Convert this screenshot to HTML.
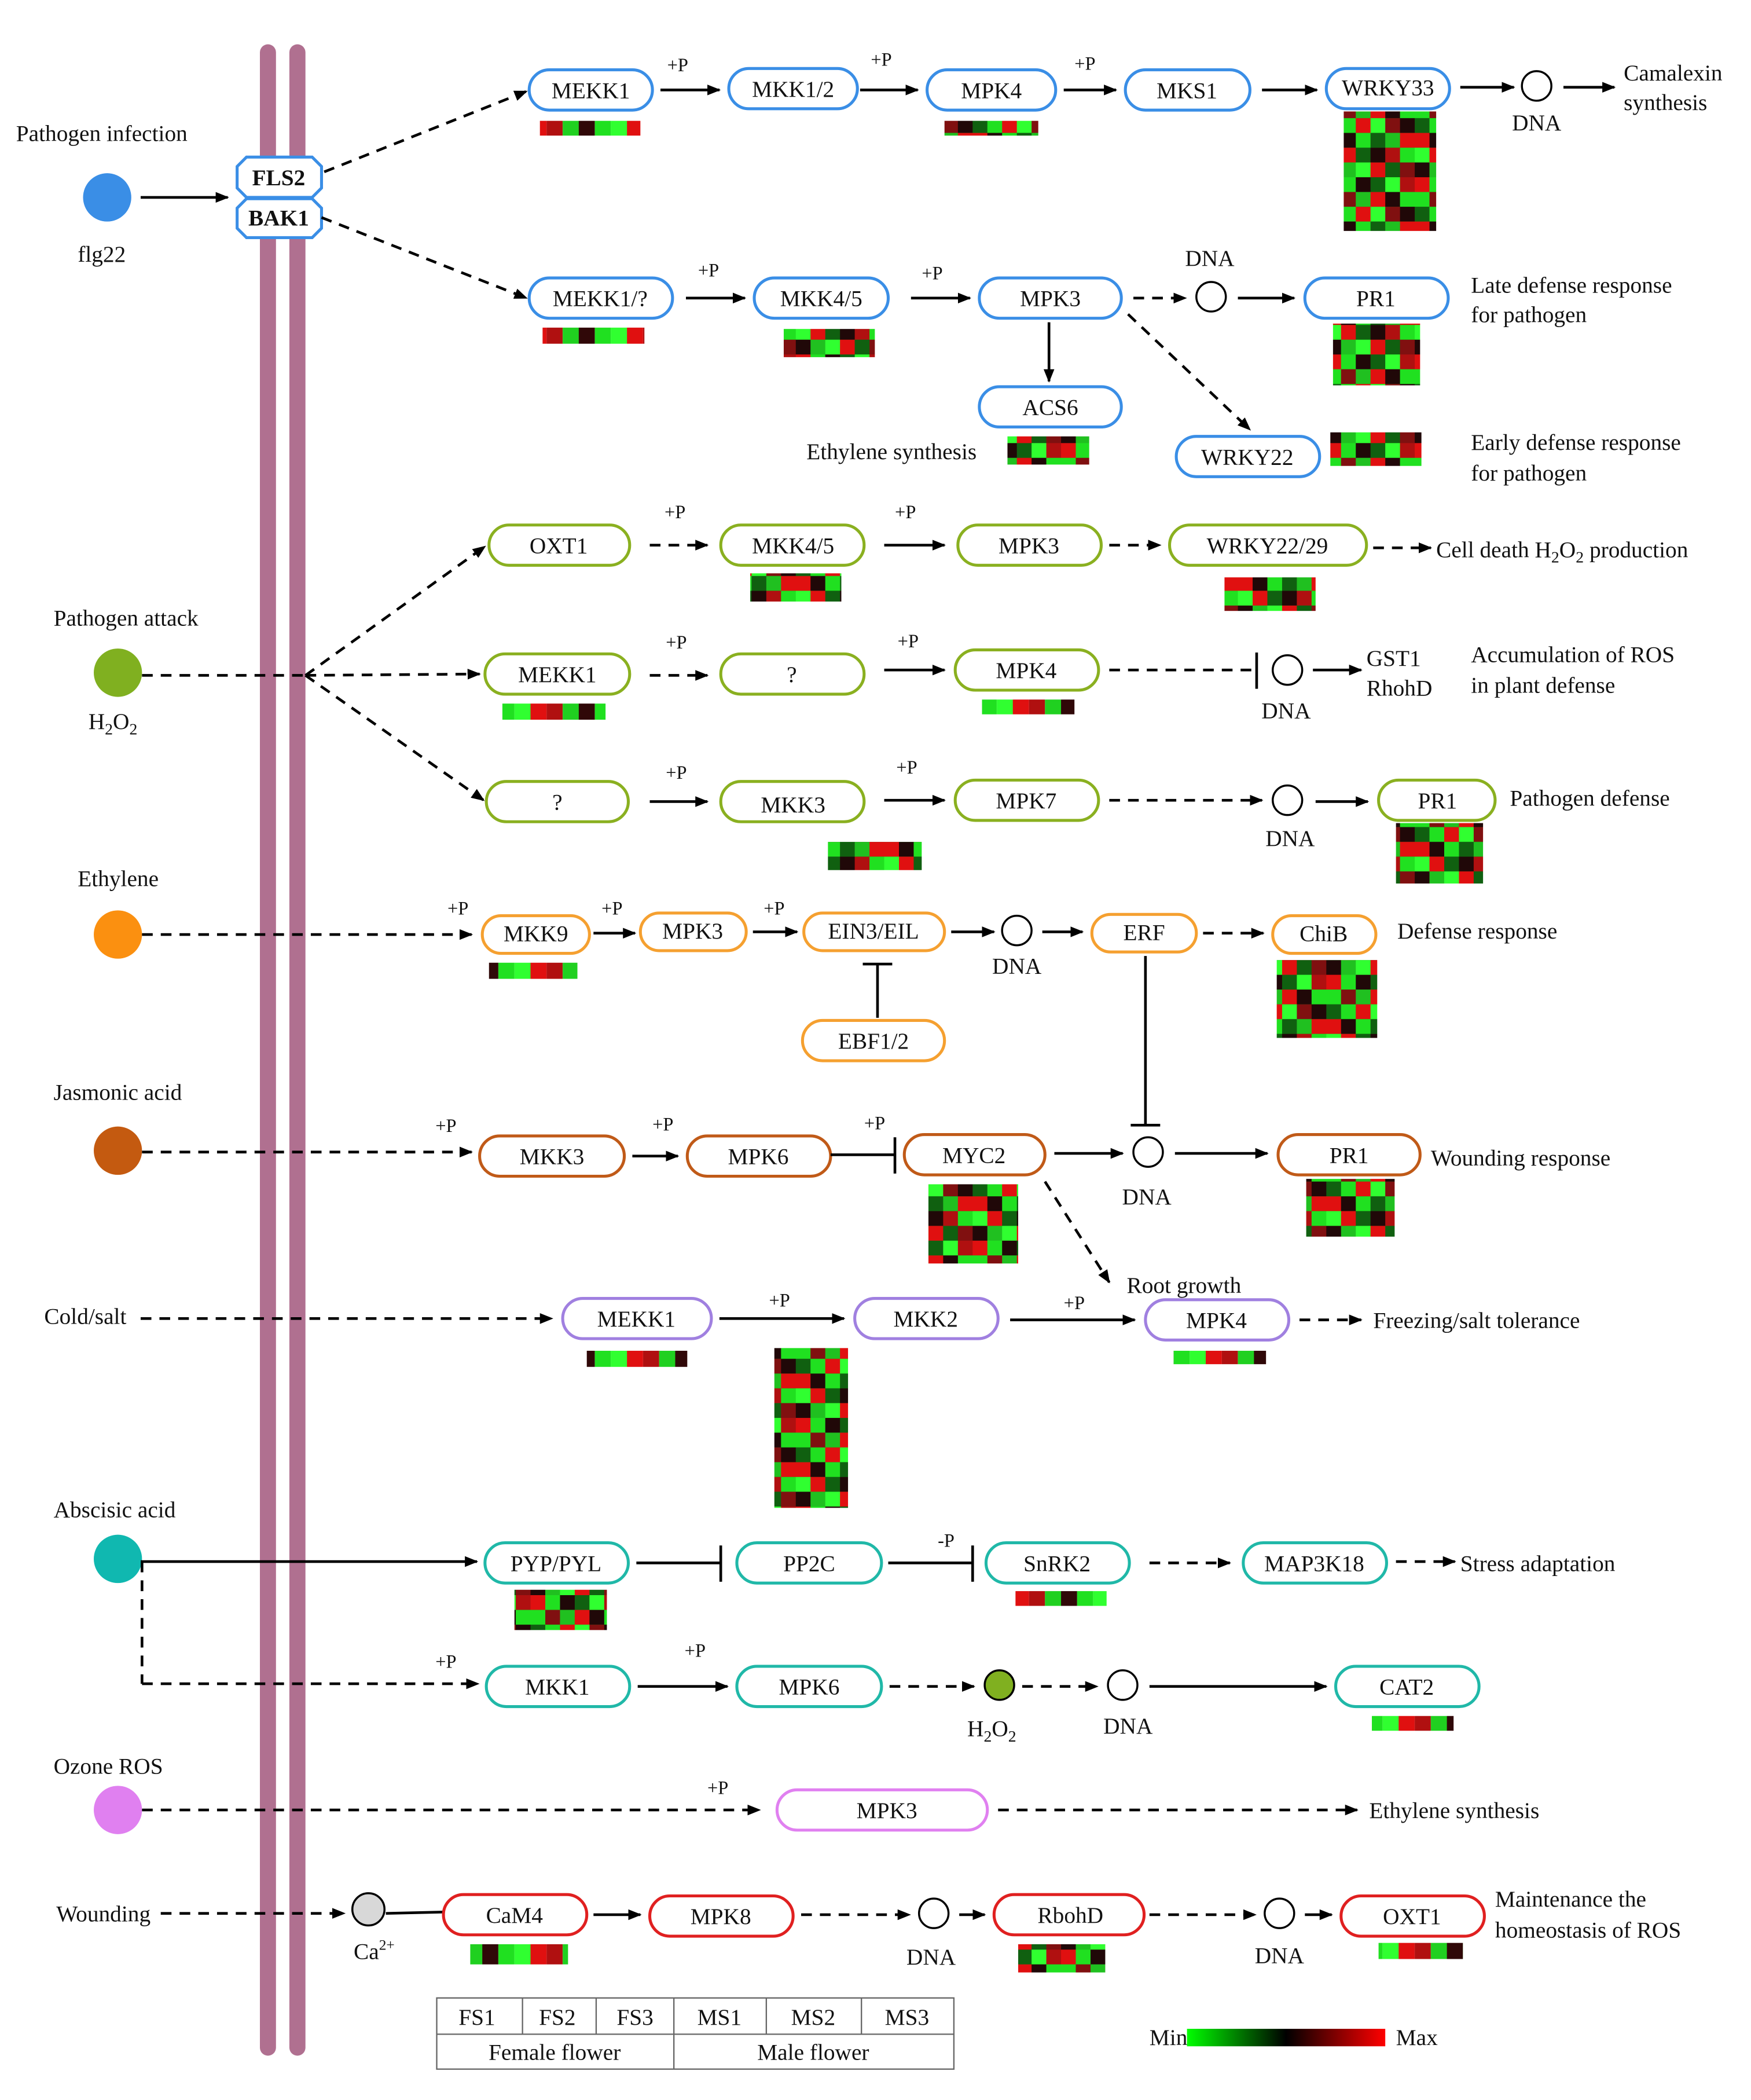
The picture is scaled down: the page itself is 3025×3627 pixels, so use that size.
<!DOCTYPE html>
<html><head><meta charset="utf-8"><style>
html,body{margin:0;padding:0;background:#fff}
svg{display:block}
text{font-family:"Liberation Serif",serif;font-size:17px;fill:#111}
.n{fill:#fff;stroke-width:2.2}
.c{text-anchor:middle}
.l{stroke:#000;stroke-width:2;fill:none}
.d{stroke:#000;stroke-width:2;fill:none;stroke-dasharray:8,6}
.p{font-size:14px}
.b{stroke:#3a8ee6}.g{stroke:#8ab020}.o{stroke:#f5a030}.br{stroke:#c05a18}.pu{stroke:#a080e0}.t{stroke:#20b8a8}.pk{stroke:#e080f0}.r{stroke:#e02020}
.hm{fill:url(#hm);stroke:none}
.hm2{fill:url(#hm2);stroke:none}
</style></head><body>
<svg width="3025" height="3627" viewBox="0 0 1307 1564" preserveAspectRatio="none" xmlns="http://www.w3.org/2000/svg">
<defs>
<marker id="a" markerWidth="10" markerHeight="10" refX="9" refY="5" orient="auto" markerUnits="userSpaceOnUse"><path d="M0,1 L10,5 L0,9 Z" fill="#000"/></marker>
<pattern id="hm" width="66" height="66" patternUnits="userSpaceOnUse">
<rect width="66" height="66" fill="#108010"/>
<rect x="0" y="0" width="11" height="11" fill="#e01010"/><rect x="11" y="0" width="11" height="11" fill="#20e020"/><rect x="22" y="0" width="11" height="11" fill="#200808"/><rect x="33" y="0" width="11" height="11" fill="#106010"/><rect x="44" y="0" width="11" height="11" fill="#30ff30"/><rect x="55" y="0" width="11" height="11" fill="#b01010"/>
<rect x="0" y="11" width="11" height="11" fill="#20e020"/><rect x="11" y="11" width="11" height="11" fill="#801010"/><rect x="22" y="11" width="11" height="11" fill="#20c020"/><rect x="33" y="11" width="11" height="11" fill="#e01010"/><rect x="44" y="11" width="11" height="11" fill="#200808"/><rect x="55" y="11" width="11" height="11" fill="#20e020"/>
<rect x="0" y="22" width="11" height="11" fill="#106010"/><rect x="11" y="22" width="11" height="11" fill="#20e020"/><rect x="22" y="22" width="11" height="11" fill="#e01010"/><rect x="33" y="22" width="11" height="11" fill="#30ff30"/><rect x="44" y="22" width="11" height="11" fill="#801010"/><rect x="55" y="22" width="11" height="11" fill="#200808"/>
<rect x="0" y="33" width="11" height="11" fill="#e01010"/><rect x="11" y="33" width="11" height="11" fill="#200808"/><rect x="22" y="33" width="11" height="11" fill="#20e020"/><rect x="33" y="33" width="11" height="11" fill="#106010"/><rect x="44" y="33" width="11" height="11" fill="#20c020"/><rect x="55" y="33" width="11" height="11" fill="#e01010"/>
<rect x="0" y="44" width="11" height="11" fill="#30ff30"/><rect x="11" y="44" width="11" height="11" fill="#e01010"/><rect x="22" y="44" width="11" height="11" fill="#106010"/><rect x="33" y="44" width="11" height="11" fill="#200808"/><rect x="44" y="44" width="11" height="11" fill="#b01010"/><rect x="55" y="44" width="11" height="11" fill="#20e020"/>
<rect x="0" y="55" width="11" height="11" fill="#200808"/><rect x="11" y="55" width="11" height="11" fill="#20c020"/><rect x="22" y="55" width="11" height="11" fill="#30ff30"/><rect x="33" y="55" width="11" height="11" fill="#e01010"/><rect x="44" y="55" width="11" height="11" fill="#106010"/><rect x="55" y="55" width="11" height="11" fill="#801010"/>
</pattern>
<pattern id="hm2" width="72" height="12" patternUnits="userSpaceOnUse">
<rect x="0" width="12" height="12" fill="#300808"/><rect x="12" width="12" height="12" fill="#20e020"/><rect x="24" width="12" height="12" fill="#30ff30"/><rect x="36" width="12" height="12" fill="#e01010"/><rect x="48" width="12" height="12" fill="#b01010"/><rect x="60" width="12" height="12" fill="#20d020"/>
</pattern>
<linearGradient id="cb"><stop offset="0" stop-color="#00ff00"/><stop offset="0.5" stop-color="#000"/><stop offset="1" stop-color="#ff0000"/></linearGradient>
</defs>

<rect x="194" y="33" width="12" height="1498" rx="6" fill="#b07090"/>
<rect x="216" y="33" width="12" height="1498" rx="6" fill="#b07090"/>

<text x="12" y="105">Pathogen infection</text>
<circle cx="80" cy="147" r="18" fill="#3a8ee6"/>
<text x="58" y="195">flg22</text>
<line class="l" x1="105" y1="147" x2="170" y2="147" marker-end="url(#a)"/>
<path d="M184,117 L233,117 L240,124 L240,140 L233,147 L184,147 L177,140 L177,124 Z" fill="#fff" stroke="#3a8ee6" stroke-width="2.2"/>
<path d="M184,148 L233,148 L240,155 L240,170 L233,177 L184,177 L177,170 L177,155 Z" fill="#fff" stroke="#3a8ee6" stroke-width="2.2"/>
<text x="208" y="138" class="c" font-weight="bold">FLS2</text>
<text x="208" y="168" class="c" font-weight="bold">BAK1</text>
<line class="d" x1="242" y1="128" x2="393" y2="68" marker-end="url(#a)"/>
<line class="d" x1="240" y1="162" x2="393" y2="222" marker-end="url(#a)"/>

<rect class="n b" x="395" y="52" width="92" height="30" rx="15"/><text x="441" y="73" class="c">MEKK1</text>
<rect class="n b" x="544" y="51" width="96" height="30" rx="15"/><text x="592" y="72" class="c">MKK1/2</text>
<rect class="n b" x="692" y="52" width="96" height="30" rx="15"/><text x="740" y="73" class="c">MPK4</text>
<rect class="n b" x="840" y="52" width="93" height="30" rx="15"/><text x="886" y="73" class="c">MKS1</text>
<rect class="n b" x="990" y="51" width="92" height="30" rx="15"/><text x="1036" y="71" class="c">WRKY33</text>
<line class="l" x1="493" y1="67" x2="537" y2="67" marker-end="url(#a)"/>
<line class="l" x1="642" y1="67" x2="685" y2="67" marker-end="url(#a)"/>
<line class="l" x1="794" y1="67" x2="833" y2="67" marker-end="url(#a)"/>
<line class="l" x1="942" y1="67" x2="983" y2="67" marker-end="url(#a)"/>
<line class="l" x1="1090" y1="65" x2="1130" y2="65" marker-end="url(#a)"/>
<circle cx="1147" cy="64" r="11" fill="#fff" stroke="#000" stroke-width="1.5"/>
<text x="1147" y="97" class="c">DNA</text>
<line class="l" x1="1167" y1="65" x2="1205" y2="65" marker-end="url(#a)"/>
<text x="1212" y="60">Camalexin</text><text x="1212" y="82">synthesis</text>
<text x="498" y="53" class="p">+P</text><text x="650" y="49" class="p">+P</text><text x="802" y="52" class="p">+P</text>
<rect class="hm2" x="403" y="90" width="75" height="11"/>
<rect class="hm" x="705" y="90" width="70" height="11"/>
<rect class="hm" x="1003" y="83" width="69" height="89"/>

<rect class="n b" x="395" y="207" width="107" height="30" rx="15"/><text x="448" y="228" class="c">MEKK1/?</text>
<rect class="n b" x="563" y="207" width="100" height="30" rx="15"/><text x="613" y="228" class="c">MKK4/5</text>
<rect class="n b" x="731" y="207" width="106" height="30" rx="15"/><text x="784" y="228" class="c">MPK3</text>
<rect class="n b" x="974" y="207" width="107" height="30" rx="15"/><text x="1027" y="228" class="c">PR1</text>
<rect class="n b" x="731" y="288" width="106" height="30" rx="15"/><text x="784" y="309" class="c">ACS6</text>
<rect class="n b" x="878" y="325" width="107" height="30" rx="15"/><text x="931" y="346" class="c">WRKY22</text>
<line class="l" x1="512" y1="222" x2="556" y2="222" marker-end="url(#a)"/>
<line class="l" x1="680" y1="222" x2="724" y2="222" marker-end="url(#a)"/>
<line class="d" x1="846" y1="222" x2="885" y2="222" marker-end="url(#a)"/>
<circle cx="904" cy="221" r="11" fill="#fff" stroke="#000" stroke-width="1.5"/>
<text x="903" y="198" class="c">DNA</text>
<line class="l" x1="924" y1="222" x2="966" y2="222" marker-end="url(#a)"/>
<line class="l" x1="783" y1="240" x2="783" y2="284" marker-end="url(#a)"/>
<line class="d" x1="842" y1="234" x2="933" y2="320" marker-end="url(#a)"/>
<text x="1098" y="218">Late defense response</text><text x="1098" y="240">for pathogen</text>
<text x="602" y="342">Ethylene synthesis</text>
<text x="1098" y="335">Early defense response</text><text x="1098" y="358">for pathogen</text>
<text x="521" y="206" class="p">+P</text><text x="688" y="208" class="p">+P</text>
<rect class="hm2" x="405" y="244" width="76" height="12"/>
<rect class="hm" x="585" y="245" width="68" height="21"/>
<rect class="hm" x="995" y="241" width="65" height="46"/>
<rect class="hm" x="752" y="325" width="61" height="21"/>
<rect class="hm" x="993" y="322" width="68" height="25"/>

<text x="40" y="466">Pathogen attack</text>
<circle cx="88" cy="501" r="18" fill="#80b020"/>
<text x="66" y="543">H<tspan font-size="12" dy="4">2</tspan><tspan dy="-4">O</tspan><tspan font-size="12" dy="4">2</tspan></text>
<line class="d" x1="106" y1="503" x2="228" y2="503"/>
<line class="d" x1="228" y1="503" x2="362" y2="407" marker-end="url(#a)"/>
<line class="d" x1="228" y1="503" x2="358" y2="502" marker-end="url(#a)"/>
<line class="d" x1="228" y1="503" x2="361" y2="596" marker-end="url(#a)"/>

<rect class="n g" x="365" y="391" width="105" height="30" rx="15"/><text x="417" y="412" class="c">OXT1</text>
<rect class="n g" x="538" y="391" width="107" height="30" rx="15"/><text x="592" y="412" class="c">MKK4/5</text>
<rect class="n g" x="715" y="391" width="107" height="30" rx="15"/><text x="768" y="412" class="c">MPK3</text>
<rect class="n g" x="873" y="391" width="147" height="30" rx="15"/><text x="946" y="412" class="c">WRKY22/29</text>
<line class="d" x1="485" y1="406" x2="528" y2="406" marker-end="url(#a)"/>
<line class="l" x1="660" y1="406" x2="705" y2="406" marker-end="url(#a)"/>
<line class="d" x1="828" y1="406" x2="866" y2="406" marker-end="url(#a)"/>
<line class="d" x1="1025" y1="408" x2="1068" y2="408" marker-end="url(#a)"/>
<text x="1072" y="415">Cell death H<tspan font-size="12" dy="4">2</tspan><tspan dy="-4">O</tspan><tspan font-size="12" dy="4">2</tspan><tspan dy="-4"> production</tspan></text>
<text x="496" y="386" class="p">+P</text><text x="668" y="386" class="p">+P</text>
<rect class="hm" x="560" y="427" width="68" height="21"/>
<rect class="hm" x="914" y="430" width="68" height="25"/>

<rect class="n g" x="362" y="487" width="108" height="30" rx="15"/><text x="416" y="508" class="c">MEKK1</text>
<rect class="n g" x="538" y="487" width="107" height="30" rx="15"/><text x="591" y="508" class="c">?</text>
<rect class="n g" x="713" y="484" width="107" height="30" rx="15"/><text x="766" y="505" class="c">MPK4</text>
<line class="d" x1="485" y1="503" x2="528" y2="503" marker-end="url(#a)"/>
<line class="l" x1="660" y1="499" x2="705" y2="499" marker-end="url(#a)"/>
<line class="d" x1="828" y1="499" x2="936" y2="499"/>
<line class="l" x1="938" y1="486" x2="938" y2="513"/>
<circle cx="961" cy="499" r="11" fill="#fff" stroke="#000" stroke-width="1.5"/>
<text x="960" y="535" class="c">DNA</text>
<line class="l" x1="980" y1="499" x2="1016" y2="499" marker-end="url(#a)"/>
<text x="1020" y="496">GST1</text><text x="1020" y="518">RhohD</text>
<text x="1098" y="493">Accumulation of ROS</text><text x="1098" y="516">in plant defense</text>
<text x="497" y="483" class="p">+P</text><text x="670" y="482" class="p">+P</text>
<rect class="hm2" x="375" y="524" width="77" height="12"/>
<rect class="hm2" x="733" y="521" width="69" height="11"/>

<rect class="n g" x="363" y="582" width="106" height="30" rx="15"/><text x="416" y="603" class="c">?</text>
<rect class="n g" x="538" y="582" width="107" height="30" rx="15"/><text x="592" y="605" class="c">MKK3</text>
<rect class="n g" x="713" y="581" width="107" height="30" rx="15"/><text x="766" y="602" class="c">MPK7</text>
<rect class="n g" x="1029" y="581" width="87" height="30" rx="15"/><text x="1073" y="602" class="c">PR1</text>
<line class="l" x1="485" y1="597" x2="528" y2="597" marker-end="url(#a)"/>
<line class="l" x1="660" y1="596" x2="705" y2="596" marker-end="url(#a)"/>
<line class="d" x1="828" y1="596" x2="942" y2="596" marker-end="url(#a)"/>
<circle cx="961" cy="596" r="11" fill="#fff" stroke="#000" stroke-width="1.5"/>
<text x="963" y="630" class="c">DNA</text>
<line class="l" x1="982" y1="597" x2="1021" y2="597" marker-end="url(#a)"/>
<text x="1127" y="600">Pathogen defense</text>
<text x="497" y="580" class="p">+P</text><text x="669" y="576" class="p">+P</text>
<rect class="hm" x="618" y="627" width="70" height="21"/>
<rect class="hm" x="1042" y="613" width="65" height="45"/>

<text x="58" y="660">Ethylene</text>
<circle cx="88" cy="696" r="18" fill="#fb9010"/>
<line class="d" x1="106" y1="696" x2="352" y2="696" marker-end="url(#a)"/>
<rect class="n o" x="360" y="682" width="80" height="28" rx="14"/><text x="400" y="701" class="c">MKK9</text>
<rect class="n o" x="478" y="680" width="79" height="28" rx="14"/><text x="517" y="699" class="c">MPK3</text>
<rect class="n o" x="600" y="680" width="105" height="28" rx="14"/><text x="652" y="699" class="c">EIN3/EIL</text>
<rect class="n o" x="815" y="681" width="78" height="28" rx="14"/><text x="854" y="700" class="c">ERF</text>
<rect class="n o" x="950" y="682" width="77" height="28" rx="14"/><text x="988" y="701" class="c">ChiB</text>
<rect class="n o" x="599" y="760" width="106" height="30" rx="15"/><text x="652" y="781" class="c">EBF1/2</text>
<line class="l" x1="443" y1="695" x2="474" y2="695" marker-end="url(#a)"/>
<line class="l" x1="562" y1="694" x2="595" y2="694" marker-end="url(#a)"/>
<line class="l" x1="710" y1="694" x2="742" y2="694" marker-end="url(#a)"/>
<circle cx="759" cy="693" r="11" fill="#fff" stroke="#000" stroke-width="1.5"/>
<text x="759" y="725" class="c">DNA</text>
<line class="l" x1="778" y1="694" x2="808" y2="694" marker-end="url(#a)"/>
<line class="d" x1="898" y1="695" x2="943" y2="695" marker-end="url(#a)"/>
<line class="l" x1="655" y1="758" x2="655" y2="718"/><line class="l" x1="644" y1="718" x2="666" y2="718"/>
<line class="l" x1="855" y1="712" x2="855" y2="838"/><line class="l" x1="844" y1="838" x2="866" y2="838"/>
<text x="1043" y="699">Defense response</text>
<text x="334" y="681" class="p">+P</text><text x="449" y="681" class="p">+P</text><text x="570" y="681" class="p">+P</text>
<rect class="hm2" x="365" y="717" width="66" height="12"/>
<rect class="hm" x="953" y="715" width="75" height="58"/>

<text x="40" y="819">Jasmonic acid</text>
<circle cx="88" cy="857" r="18" fill="#c45a10"/>
<line class="d" x1="106" y1="858" x2="352" y2="858" marker-end="url(#a)"/>
<rect class="n br" x="358" y="846" width="108" height="30" rx="15"/><text x="412" y="867" class="c">MKK3</text>
<rect class="n br" x="513" y="846" width="107" height="30" rx="15"/><text x="566" y="867" class="c">MPK6</text>
<rect class="n br" x="675" y="845" width="105" height="30" rx="15"/><text x="727" y="866" class="c">MYC2</text>
<rect class="n br" x="954" y="845" width="106" height="30" rx="15"/><text x="1007" y="866" class="c">PR1</text>
<line class="l" x1="472" y1="861" x2="506" y2="861" marker-end="url(#a)"/>
<line class="l" x1="620" y1="860" x2="668" y2="860"/><line class="l" x1="668" y1="847" x2="668" y2="874"/>
<line class="l" x1="787" y1="859" x2="838" y2="859" marker-end="url(#a)"/>
<circle cx="857" cy="858" r="11" fill="#fff" stroke="#000" stroke-width="1.5"/>
<text x="856" y="897" class="c">DNA</text>
<line class="l" x1="877" y1="859" x2="946" y2="859" marker-end="url(#a)"/>
<line class="d" x1="780" y1="880" x2="828" y2="955" marker-end="url(#a)"/>
<text x="841" y="963">Root growth</text>
<text x="1068" y="868">Wounding response</text>
<text x="325" y="843" class="p">+P</text><text x="487" y="842" class="p">+P</text><text x="645" y="841" class="p">+P</text>
<rect class="hm" x="693" y="882" width="67" height="59"/>
<rect class="hm" x="975" y="878" width="66" height="43"/>

<text x="33" y="986">Cold/salt</text>
<line class="d" x1="105" y1="982" x2="412" y2="982" marker-end="url(#a)"/>
<rect class="n pu" x="420" y="967" width="111" height="30" rx="15"/><text x="475" y="988" class="c">MEKK1</text>
<rect class="n pu" x="638" y="967" width="107" height="30" rx="15"/><text x="691" y="988" class="c">MKK2</text>
<rect class="n pu" x="855" y="968" width="107" height="30" rx="15"/><text x="908" y="989" class="c">MPK4</text>
<line class="l" x1="537" y1="982" x2="630" y2="982" marker-end="url(#a)"/>
<line class="l" x1="754" y1="983" x2="847" y2="983" marker-end="url(#a)"/>
<line class="d" x1="970" y1="983" x2="1016" y2="983" marker-end="url(#a)"/>
<text x="1025" y="989">Freezing/salt tolerance</text>
<text x="574" y="973" class="p">+P</text><text x="794" y="975" class="p">+P</text>
<rect class="hm2" x="438" y="1006" width="75" height="12"/>
<rect class="hm2" x="876" y="1006" width="69" height="10"/>
<rect class="hm" x="578" y="1004" width="55" height="119"/>

<text x="40" y="1130">Abscisic acid</text>
<circle cx="88" cy="1161" r="18" fill="#10b8b0"/>
<line class="l" x1="105" y1="1163" x2="356" y2="1163" marker-end="url(#a)"/>
<rect class="n t" x="362" y="1149" width="107" height="30" rx="15"/><text x="415" y="1170" class="c">PYP/PYL</text>
<rect class="n t" x="550" y="1149" width="108" height="30" rx="15"/><text x="604" y="1170" class="c">PP2C</text>
<rect class="n t" x="736" y="1149" width="107" height="30" rx="15"/><text x="789" y="1170" class="c">SnRK2</text>
<rect class="n t" x="928" y="1149" width="107" height="30" rx="15"/><text x="981" y="1170" class="c">MAP3K18</text>
<line class="l" x1="475" y1="1164" x2="538" y2="1164"/><line class="l" x1="538" y1="1151" x2="538" y2="1178"/>
<line class="l" x1="663" y1="1164" x2="726" y2="1164"/><line class="l" x1="726" y1="1151" x2="726" y2="1178"/>
<text x="700" y="1152" class="p">-P</text>
<line class="d" x1="858" y1="1164" x2="918" y2="1164" marker-end="url(#a)"/>
<line class="d" x1="1042" y1="1163" x2="1086" y2="1163" marker-end="url(#a)"/>
<text x="1090" y="1170">Stress adaptation</text>
<rect class="hm" x="384" y="1184" width="69" height="30"/>
<rect class="hm2" x="758" y="1185" width="68" height="11"/>

<line class="d" x1="106" y1="1163" x2="106" y2="1254"/>
<line class="d" x1="106" y1="1254" x2="357" y2="1254" marker-end="url(#a)"/>
<rect class="n t" x="363" y="1241" width="107" height="30" rx="15"/><text x="416" y="1262" class="c">MKK1</text>
<rect class="n t" x="550" y="1241" width="108" height="30" rx="15"/><text x="604" y="1262" class="c">MPK6</text>
<rect class="n t" x="997" y="1241" width="107" height="30" rx="15"/><text x="1050" y="1262" class="c">CAT2</text>
<line class="l" x1="476" y1="1256" x2="543" y2="1256" marker-end="url(#a)"/>
<line class="d" x1="664" y1="1256" x2="727" y2="1256" marker-end="url(#a)"/>
<circle cx="746" cy="1255" r="11" fill="#80b020" stroke="#000" stroke-width="1.5"/>
<line class="d" x1="763" y1="1256" x2="819" y2="1256" marker-end="url(#a)"/>
<circle cx="838" cy="1255" r="11" fill="#fff" stroke="#000" stroke-width="1.5"/>
<line class="l" x1="858" y1="1256" x2="990" y2="1256" marker-end="url(#a)"/>
<text x="722" y="1293">H<tspan font-size="12" dy="4">2</tspan><tspan dy="-4">O</tspan><tspan font-size="12" dy="4">2</tspan></text>
<text x="842" y="1291" class="c">DNA</text>
<text x="325" y="1242" class="p">+P</text><text x="511" y="1234" class="p">+P</text>
<rect class="hm2" x="1024" y="1278" width="61" height="11"/>

<text x="40" y="1321">Ozone ROS</text>
<circle cx="88" cy="1348" r="18" fill="#e080f0"/>
<line class="d" x1="106" y1="1348" x2="567" y2="1348" marker-end="url(#a)"/>
<rect class="n pk" x="580" y="1333" width="157" height="30" rx="15"/><text x="662" y="1354" class="c">MPK3</text>
<line class="d" x1="745" y1="1348" x2="1013" y2="1348" marker-end="url(#a)"/>
<text x="1022" y="1354">Ethylene synthesis</text>
<text x="528" y="1336" class="p">+P</text>

<text x="42" y="1431">Wounding</text>
<line class="d" x1="120" y1="1425" x2="257" y2="1425" marker-end="url(#a)"/>
<circle cx="275" cy="1422" r="12" fill="#d8d8d8" stroke="#000" stroke-width="1.5"/>
<text x="264" y="1459">Ca<tspan font-size="11" dy="-7">2+</tspan></text>
<line class="l" x1="288" y1="1425" x2="331" y2="1424"/>
<rect class="n r" x="331" y="1411" width="107" height="30" rx="15"/><text x="384" y="1432" class="c">CaM4</text>
<rect class="n r" x="485" y="1412" width="107" height="30" rx="15"/><text x="538" y="1433" class="c">MPK8</text>
<rect class="n r" x="742" y="1411" width="112" height="30" rx="15"/><text x="799" y="1432" class="c">RbohD</text>
<rect class="n r" x="1001" y="1412" width="107" height="30" rx="15"/><text x="1054" y="1433" class="c">OXT1</text>
<line class="l" x1="443" y1="1426" x2="478" y2="1426" marker-end="url(#a)"/>
<line class="d" x1="598" y1="1426" x2="679" y2="1426" marker-end="url(#a)"/>
<circle cx="697" cy="1425" r="11" fill="#fff" stroke="#000" stroke-width="1.5"/>
<line class="l" x1="716" y1="1426" x2="735" y2="1426" marker-end="url(#a)"/>
<line class="d" x1="858" y1="1426" x2="937" y2="1426" marker-end="url(#a)"/>
<circle cx="955" cy="1425" r="11" fill="#fff" stroke="#000" stroke-width="1.5"/>
<line class="l" x1="974" y1="1426" x2="994" y2="1426" marker-end="url(#a)"/>
<text x="695" y="1463" class="c">DNA</text><text x="955" y="1462" class="c">DNA</text>
<text x="1116" y="1420">Maintenance the</text><text x="1116" y="1443">homeostasis of ROS</text>
<rect class="hm2" x="351" y="1448" width="73" height="15"/>
<rect class="hm" x="760" y="1448" width="65" height="21"/>
<rect class="hm2" x="1029" y="1447" width="63" height="12"/>

<rect x="326" y="1488" width="386" height="53" fill="#fff" stroke="#666" stroke-width="1"/>
<line x1="326" y1="1515" x2="712" y2="1515" stroke="#666"/>
<line x1="390" y1="1488" x2="390" y2="1515" stroke="#666"/>
<line x1="445" y1="1488" x2="445" y2="1515" stroke="#666"/>
<line x1="503" y1="1488" x2="503" y2="1541" stroke="#666"/>
<line x1="572" y1="1488" x2="572" y2="1515" stroke="#666"/>
<line x1="643" y1="1488" x2="643" y2="1515" stroke="#666"/>
<text x="356" y="1508" class="c" font-size="16">FS1</text>
<text x="416" y="1508" class="c" font-size="16">FS2</text>
<text x="474" y="1508" class="c" font-size="16">FS3</text>
<text x="537" y="1508" class="c" font-size="16">MS1</text>
<text x="607" y="1508" class="c" font-size="16">MS2</text>
<text x="677" y="1508" class="c" font-size="16">MS3</text>
<text x="414" y="1534" class="c" font-size="16">Female flower</text>
<text x="607" y="1534" class="c" font-size="16">Male flower</text>
<rect x="886" y="1511" width="148" height="13" fill="url(#cb)"/>
<text x="858" y="1523" font-size="12">Min</text>
<text x="1042" y="1523" font-size="12">Max</text>
</svg>
</body></html>
